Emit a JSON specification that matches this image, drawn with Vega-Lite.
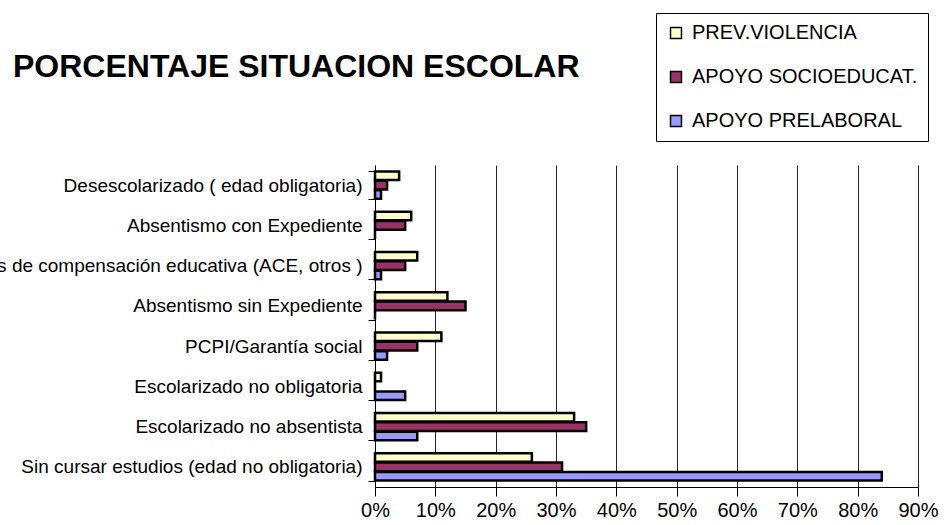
{
  "$schema": "https://vega.github.io/schema/vega-lite/v6.json",
  "width": 543,
  "height": 322,
  "autosize": {"type": "none"},
  "padding": {"left": 375, "top": 165, "right": 26, "bottom": 38},
  "background": "white",
  "title": {
    "text": "PORCENTAJE SITUACION ESCOLAR",
    "anchor": "start",
    "frame": "group",
    "font": "Liberation Sans",
    "fontSize": 32,
    "fontWeight": "bold",
    "color": "#000000",
    "baseline": "alphabetic",
    "dx": -362,
    "offset": 0,
    "dy": 96
  },
  "config": {
    "view": {"stroke": null},
    "font": "Liberation Sans"
  },
  "data": {
    "values": [
      {"categoria": "Desescolarizado ( edad obligatoria)", "programa": "PREV.VIOLENCIA", "valor": 0.04},
      {"categoria": "Desescolarizado ( edad obligatoria)", "programa": "APOYO SOCIOEDUCAT.", "valor": 0.02},
      {"categoria": "Desescolarizado ( edad obligatoria)", "programa": "APOYO PRELABORAL", "valor": 0.01},
      {"categoria": "Absentismo con Expediente", "programa": "PREV.VIOLENCIA", "valor": 0.06},
      {"categoria": "Absentismo con Expediente", "programa": "APOYO SOCIOEDUCAT.", "valor": 0.05},
      {"categoria": "Absentismo con Expediente", "programa": "APOYO PRELABORAL", "valor": 0.0},
      {"categoria": "Medidas de compensación educativa (ACE, otros )", "programa": "PREV.VIOLENCIA", "valor": 0.07},
      {"categoria": "Medidas de compensación educativa (ACE, otros )", "programa": "APOYO SOCIOEDUCAT.", "valor": 0.05},
      {"categoria": "Medidas de compensación educativa (ACE, otros )", "programa": "APOYO PRELABORAL", "valor": 0.01},
      {"categoria": "Absentismo sin Expediente", "programa": "PREV.VIOLENCIA", "valor": 0.12},
      {"categoria": "Absentismo sin Expediente", "programa": "APOYO SOCIOEDUCAT.", "valor": 0.15},
      {"categoria": "Absentismo sin Expediente", "programa": "APOYO PRELABORAL", "valor": 0.0},
      {"categoria": "PCPI/Garantía social", "programa": "PREV.VIOLENCIA", "valor": 0.11},
      {"categoria": "PCPI/Garantía social", "programa": "APOYO SOCIOEDUCAT.", "valor": 0.07},
      {"categoria": "PCPI/Garantía social", "programa": "APOYO PRELABORAL", "valor": 0.02},
      {"categoria": "Escolarizado no obligatoria", "programa": "PREV.VIOLENCIA", "valor": 0.01},
      {"categoria": "Escolarizado no obligatoria", "programa": "APOYO SOCIOEDUCAT.", "valor": 0.0},
      {"categoria": "Escolarizado no obligatoria", "programa": "APOYO PRELABORAL", "valor": 0.05},
      {"categoria": "Escolarizado no absentista", "programa": "PREV.VIOLENCIA", "valor": 0.33},
      {"categoria": "Escolarizado no absentista", "programa": "APOYO SOCIOEDUCAT.", "valor": 0.35},
      {"categoria": "Escolarizado no absentista", "programa": "APOYO PRELABORAL", "valor": 0.07},
      {"categoria": "Sin cursar estudios (edad no obligatoria)", "programa": "PREV.VIOLENCIA", "valor": 0.26},
      {"categoria": "Sin cursar estudios (edad no obligatoria)", "programa": "APOYO SOCIOEDUCAT.", "valor": 0.31},
      {"categoria": "Sin cursar estudios (edad no obligatoria)", "programa": "APOYO PRELABORAL", "valor": 0.84}
    ]
  },
  "mark": {"type": "bar", "stroke": "#000000", "strokeWidth": 2.5},
  "encoding": {
    "y": {
      "field": "categoria",
      "type": "nominal",
      "sort": null,
      "scale": {"paddingInner": 0.32, "paddingOuter": 0.16},
      "axis": {
        "title": null,
        "tickBand": "extent",
        "tickSize": 7,
        "tickColor": "#000000",
        "domainColor": "#000000",
        "labelPadding": 6,
        "labelFont": "Liberation Sans",
        "labelFontSize": 19,
        "labelColor": "#000000",
        "labelLimit": 1000
      }
    },
    "yOffset": {
      "field": "programa",
      "type": "nominal",
      "sort": ["PREV.VIOLENCIA", "APOYO SOCIOEDUCAT.", "APOYO PRELABORAL"],
      "scale": {"paddingInner": 0.08}
    },
    "x": {
      "field": "valor",
      "type": "quantitative",
      "scale": {"domain": [0, 0.9], "nice": false},
      "axis": {
        "title": null,
        "format": ".0%",
        "values": [0, 0.1, 0.2, 0.3, 0.4, 0.5, 0.6, 0.7, 0.8, 0.9],
        "grid": true,
        "gridColor": "#000000",
        "gridOpacity": 0.85,
        "tickSize": 9,
        "tickColor": "#000000",
        "domainColor": "#000000",
        "labelPadding": 4,
        "labelFlush": false,
        "labelOverlap": false,
        "labelFont": "Liberation Sans",
        "labelFontSize": 20,
        "labelColor": "#000000"
      }
    },
    "color": {
      "field": "programa",
      "type": "nominal",
      "scale": {
        "domain": ["PREV.VIOLENCIA", "APOYO SOCIOEDUCAT.", "APOYO PRELABORAL"],
        "range": ["#FFFFCC", "#993366", "#9999FF"]
      },
      "legend": {
        "title": null,
        "orient": "none",
        "legendX": 281,
        "legendY": -152,
        "strokeColor": "#000000",
        "padding": 10,
        "symbolType": "square",
        "symbolSize": 120,
        "symbolStrokeColor": "#000000",
        "symbolStrokeWidth": 1.5,
        "symbolOpacity": 1,
        "labelFont": "Liberation Sans",
        "labelFontSize": 20,
        "labelColor": "#000000",
        "labelOffset": 6,
        "labelLimit": 400,
        "rowPadding": 24
      }
    }
  }
}
